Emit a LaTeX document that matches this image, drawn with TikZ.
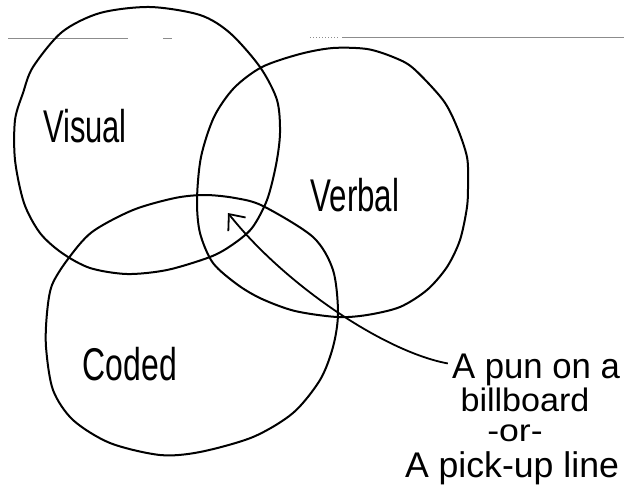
\documentclass[tikz,border=0pt]{standalone}
\usepackage{fontspec}
\setmainfont{Liberation Sans}
\usetikzlibrary{arrows.meta,calc}
\tikzset{
  ring/.style={line width=2pt, line join=round},
  lbl/.style={inner sep=0pt, anchor=base, font=\fontsize{34}{34}\selectfont},
  notetext/.style={inner sep=0pt, anchor=base, font=\fontsize{31}{31}\selectfont},
  rule/.style={draw=black!45, line width=1pt},
  pointer/.style={line width=1.8pt, -{Straight Barb[length=13pt,width=22pt,line width=1.8pt]}}
}
\begin{document}
\begin{tikzpicture}[x=1pt,y=-1pt]
\useasboundingbox[fill=white] (0,0) rectangle (624,488);
% faint ruled line at the top
\draw[rule] (8,38) -- (128,38);
\draw[rule] (163,38) -- (172,38);
\draw[rule, dotted] (310,37) -- (340,37);
\draw[rule] (342,37) -- (624,37);
% Visual
\draw[ring] plot[smooth cycle, tension=0.5] coordinates {
 (150,7) (200,15) (230,33) (260,67) (277,100) (280,133) (276,165) (267,200)
 (252,228) (232,245) (210,257) (167,270) (127,274) (90,268) (62,253) (40,233)
 (24,203) (15,160) (15,120) (23,93) (33,67) (62,32) (100,13)};
% Verbal
\draw[ring] plot[smooth cycle, tension=0.5] coordinates {
 (300,54) (333,48) (367,49) (393,57) (413,68) (443,100) (457,127) (467,157)
 (468,183) (467,207) (460,240) (447,267) (427,290) (400,307) (367,315) (337,317)
 (295,311) (262,299) (238,285) (213,263) (200,233) (197,200) (201,157) (214,117)
 (234,88) (262,67)};
% Coded
\draw[ring] plot[smooth cycle, tension=0.5] coordinates {
 (205,195) (235,198) (263,206) (313,237) (333,270) (338,313) (333,347) (320,380)
 (293,413) (253,437) (200,452) (160,455) (110,443) (73,420) (53,390) (46,347)
 (47,313) (52,285) (68,259) (92,232) (133,210) (175,198)};
% labels
\node[lbl] (visual) at (85,142) {\scalebox{0.91}[1.35]{Visual}};
\node[lbl] (verbal) at (355,211) {\scalebox{0.92}[1.35]{Verbal}};
\node[lbl] (coded) at (130,380) {\scalebox{0.94}[1.35]{Coded}};
% note
\node[notetext] (l1) at (536,378) {\scalebox{1.12}[1.15]{A pun on a}};
\node[notetext] (l2) at (525,411) {\scalebox{1.1}[1.05]{billboard}};
\node[notetext] (l3) at (515,441) {\scalebox{1.15}[1.0]{-or-}};
\node[notetext] (l4) at (512,477) {\scalebox{1.15}[1.15]{A pick-up line}};
% arrow
\coordinate (tip) at (228,213);
\draw[pointer] ($(l1.west)+(-4,-6)$) .. controls (385,352) and (285,285) .. (tip);
\end{tikzpicture}
\end{document}
